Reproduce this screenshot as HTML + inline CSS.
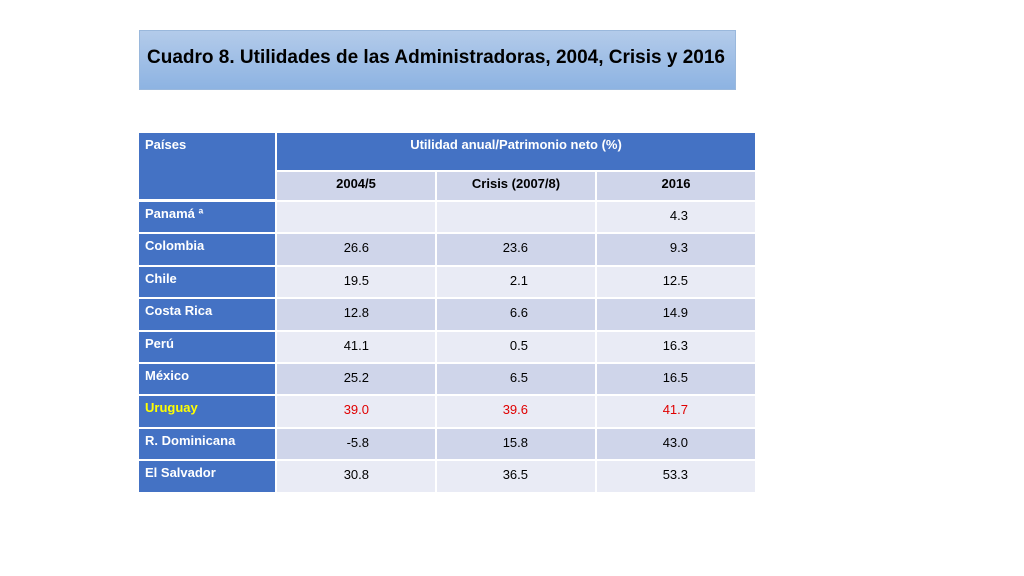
<!DOCTYPE html>
<html><head><meta charset="utf-8"><style>
body{margin:0;width:1024px;height:576px;background:#fff;position:relative;font-family:"Liberation Sans",sans-serif;overflow:hidden}
.c{position:absolute;box-sizing:border-box;font-size:13px;color:#000}
.b{background:#4472c4;color:#fff;font-weight:bold;padding:4px 6px}
.l{background:#e9ebf5}.d{background:#cfd5ea}
.n{text-align:right;padding-top:6px}
</style></head><body>
<div style="position:absolute;left:139px;top:30px;width:597px;height:60px;box-sizing:border-box;border:1px solid #9ab8dc;background:linear-gradient(#b3cbea,#8db3e2);"></div>
<div style="position:absolute;left:147px;top:47px;font-size:19px;font-weight:bold;color:#000">Cuadro 8. Utilidades de las Administradoras, 2004, Crisis y 2016</div>
<div id="t"></div>
<script>
const countries=["Panamá ª","Colombia","Chile","Costa Rica","Perú","México","Uruguay","R. Dominicana","El Salvador"];
const v2004=["","26.6","19.5","12.8","41.1","25.2","39.0","-5.8","30.8"];
const vCrisis=["","23.6","2.1","6.6","0.5","6.5","39.6","15.8","36.5"];
const v2016=["4.3","9.3","12.5","14.9","16.3","16.5","41.7","43.0","53.3"];
const t=document.getElementById('t');
function cell(x,y,w,h,cls,txt,name,style){const d=document.createElement('div');d.className='c '+cls;
d.style.left=x+'px';d.style.top=y+'px';d.style.width=w+'px';d.style.height=h+'px';if(style)d.style.cssText+=style;
d.textContent=txt;


t.appendChild(d);return d;}
cell(139,133,136,66,'b','Países','header-paises');
cell(277,133,478,37,'b','Utilidad anual/Patrimonio neto (%)','header-utilidad','text-align:center;');
const cx=[277,437,597],cw=[158,158,158],hd=["2004/5","Crisis (2007/8)","2016"];
hd.forEach((h,i)=>cell(cx[i],172,cw[i],28,'d',h,'subheader','text-align:center;font-weight:bold;padding-top:4px;'));
const cols=[v2004,vCrisis,v2016];
countries.forEach((c,r)=>{const y=202+r*32.4,h=30.4;const red=c==="Uruguay";
cell(139,y,136,h,'b',c,'row-label',red?'color:#ffff00;':'');
cols.forEach((arr,i)=>cell(cx[i],y,cw[i],h,(r%2?'d':'l')+' n',arr[r],'value-cell','padding-right:'+(i==0?66:67)+'px;'+(red?'color:#e00000;':'')));
});
</script>
</body></html>
